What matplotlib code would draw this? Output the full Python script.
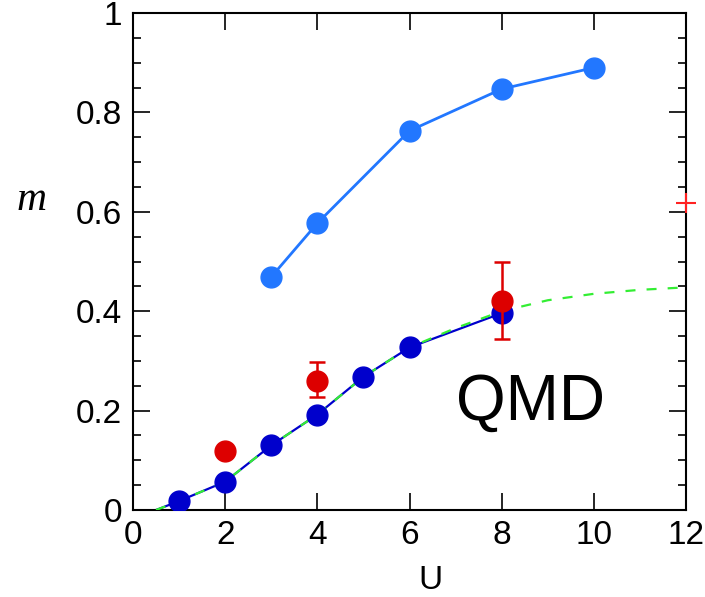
import matplotlib
matplotlib.use("Agg")
import matplotlib.pyplot as plt
from matplotlib.ticker import MultipleLocator, FuncFormatter

# Data
u_light = [3, 4, 6, 8, 10]
m_light = [0.469, 0.577, 0.763, 0.847, 0.890]

u_dark = [1, 2, 3, 4, 5, 6, 8]
m_dark = [0.018, 0.057, 0.130, 0.192, 0.268, 0.327, 0.396]

u_red = [2, 4, 8]
m_red = [0.118, 0.260, 0.420]
err_lo = [0.0, 0.032, 0.075]
err_hi = [0.0, 0.038, 0.080]

u_green = [0.5, 1, 2, 3, 4, 5, 6, 7, 8, 9, 10, 11, 12]
m_green = [0.0, 0.018, 0.057, 0.130, 0.192, 0.268, 0.327, 0.366, 0.400, 0.422, 0.435, 0.443, 0.448]

u_plus = [12]
m_plus = [0.618]

plt.rcParams['font.family'] = ['Liberation Sans', 'DejaVu Sans']

fig = plt.figure(figsize=(7.05, 5.97), dpi=100)
ax = fig.add_axes([133/705, 87/597, (686-133)/705, (510-13)/597])

ax.plot([0.5] + u_dark, [0.0] + m_dark, color='#0000cc', lw=1.6, zorder=2)
ax.plot(u_green, m_green, color='#33ee33', lw=1.6, dashes=(4.5, 5), zorder=3)
ax.plot(u_dark, m_dark, 'o', color='#0000cc', ms=15, zorder=4)
ax.plot(u_light, m_light, '-o', color='#2277ff', lw=2, ms=15, zorder=4)
ax.errorbar(u_red, m_red, yerr=[err_lo, err_hi], fmt='o', color='#dd0000',
            ms=15, elinewidth=1.8, capsize=6, capthick=1.8, zorder=5)
ax.plot(u_plus, m_plus, '+', color='#ff2222', ms=15, mew=1.5, clip_on=False, zorder=6)

ax.set_xlim(0, 12)
ax.set_ylim(0, 1)
ax.xaxis.set_major_locator(MultipleLocator(2))
ax.yaxis.set_major_locator(MultipleLocator(0.2))
ax.yaxis.set_minor_locator(MultipleLocator(0.05))

def yfmt(v, pos):
    if abs(v) < 1e-9:
        return '0'
    if abs(v - 1) < 1e-9:
        return '1'
    return f'{v:.1f}'
ax.yaxis.set_major_formatter(FuncFormatter(yfmt))

ax.tick_params(which='both', direction='in', top=True, right=True, labelsize=24, width=1.2)
ax.tick_params(which='major', length=12)
ax.tick_params(axis='y', which='major', pad=8)
ax.tick_params(axis='x', which='major', pad=7)
ax.tick_params(which='minor', length=6)
for s in ax.spines.values():
    s.set_linewidth(1.5)

fig.text(430/705, 1/597, 'U', fontsize=24, ha='center', va='bottom')
fig.text(31/705, 1 - 200/597, 'm', fontsize=30, family=['Liberation Serif', 'DejaVu Serif'],
         style='italic', ha='center', va='center')

ax.text(8.62, 0.215, 'QMD', fontsize=46, ha='center', va='center')

fig.savefig('out.png', dpi=100)
